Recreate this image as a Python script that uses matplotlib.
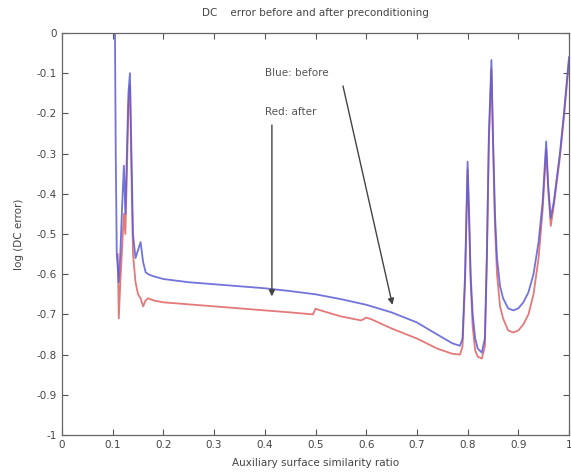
import matplotlib
matplotlib.use("Agg")
import matplotlib.pyplot as plt

# Auxiliary surface similarity ratio samples and log error, before preconditioning (blue)
x_before = [0.1045, 0.106, 0.108, 0.112, 0.115, 0.118, 0.122, 0.125, 0.128, 0.131,
            0.134, 0.137, 0.140, 0.145, 0.150, 0.155, 0.160, 0.165, 0.170, 0.180,
            0.200, 0.250, 0.300, 0.350, 0.400, 0.450, 0.500, 0.550, 0.600, 0.650,
            0.700, 0.740, 0.770, 0.785, 0.790, 0.795, 0.800, 0.803, 0.806, 0.810,
            0.815, 0.820, 0.828, 0.834, 0.838, 0.842, 0.847, 0.850, 0.854, 0.858,
            0.864, 0.870, 0.880, 0.890, 0.900, 0.910, 0.920, 0.930, 0.940, 0.948,
            0.955, 0.959, 0.964, 0.970, 0.976, 0.982, 0.990, 1.000]
y_before = [0.000, -0.30, -0.55, -0.62, -0.55, -0.45, -0.33, -0.45, -0.30, -0.15,
            -0.10, -0.30, -0.50, -0.56, -0.54, -0.52, -0.57, -0.595, -0.60, -0.605,
            -0.612, -0.620, -0.625, -0.630, -0.635, -0.642, -0.650, -0.662, -0.676, -0.695,
            -0.720, -0.750, -0.772, -0.778, -0.760, -0.600, -0.320, -0.450, -0.600, -0.700,
            -0.760, -0.785, -0.795, -0.760, -0.550, -0.250, -0.067, -0.250, -0.450, -0.560,
            -0.630, -0.660, -0.685, -0.690, -0.685, -0.670, -0.645, -0.600, -0.520, -0.420,
            -0.270, -0.380, -0.460, -0.420, -0.360, -0.300, -0.200, -0.060]

# Same quantity after preconditioning (red)
x_after = [0.110, 0.112, 0.115, 0.118, 0.122, 0.125, 0.128, 0.131, 0.134, 0.137,
           0.140, 0.145, 0.150, 0.155, 0.160, 0.165, 0.170, 0.180, 0.200, 0.250,
           0.300, 0.350, 0.400, 0.450, 0.495, 0.500, 0.510, 0.550, 0.590, 0.600,
           0.610, 0.650, 0.700, 0.740, 0.770, 0.785, 0.790, 0.795, 0.800, 0.803,
           0.806, 0.810, 0.815, 0.820, 0.828, 0.834, 0.838, 0.842, 0.847, 0.850,
           0.854, 0.858, 0.864, 0.870, 0.880, 0.890, 0.900, 0.910, 0.920, 0.930,
           0.940, 0.948, 0.955, 0.959, 0.964, 0.970, 0.976, 0.982, 0.990, 1.000]
y_after = [-0.55, -0.71, -0.62, -0.55, -0.45, -0.50, -0.35, -0.18, -0.13, -0.35,
           -0.55, -0.62, -0.65, -0.66, -0.68, -0.665, -0.660, -0.665, -0.670, -0.675,
           -0.680, -0.685, -0.690, -0.695, -0.700, -0.686, -0.690, -0.705, -0.715, -0.708,
           -0.712, -0.735, -0.760, -0.785, -0.798, -0.800, -0.780, -0.620, -0.340, -0.470,
           -0.620, -0.730, -0.790, -0.805, -0.810, -0.780, -0.570, -0.270, -0.090, -0.270,
           -0.480, -0.600, -0.680, -0.710, -0.740, -0.745, -0.740, -0.725, -0.700, -0.650,
           -0.560, -0.440, -0.290, -0.390, -0.480, -0.430, -0.370, -0.310, -0.210, -0.070]

x_ticks = [0, 0.1, 0.2, 0.3, 0.4, 0.5, 0.6, 0.7, 0.8, 0.9, 1]
x_tick_labels = ["0", "0.1", "0.2", "0.3", "0.4", "0.5", "0.6", "0.7", "0.8", "0.9", "1"]
y_ticks = [0, -0.1, -0.2, -0.3, -0.4, -0.5, -0.6, -0.7, -0.8, -0.9, -1]
y_tick_labels = ["0", "-0.1", "-0.2", "-0.3", "-0.4", "-0.5", "-0.6", "-0.7", "-0.8", "-0.9", "-1"]

fig = plt.figure(figsize=(5.71, 4.76), dpi=100)
ax = fig.add_axes([62 / 571, 41 / 476, 507 / 571, 402 / 476])

ax.plot(x_after, y_after, color="#e06a6a", lw=1.3, alpha=0.9)
ax.plot(x_before, y_before, color="#5a5ad6", lw=1.3, alpha=0.85)

ax.set_xlim(0, 1)
ax.set_ylim(-1, 0)
ax.set_xticks(x_ticks)
ax.set_xticklabels(x_tick_labels)
ax.set_yticks(y_ticks)
ax.set_yticklabels(y_tick_labels)

grey = "#555555"
ax.tick_params(direction="in", top=True, right=True, length=4, width=0.8,
               labelsize=7.5, colors=grey, labelcolor="#444444")
for s in ax.spines.values():
    s.set_color("#666666")
    s.set_linewidth(0.9)

ax.set_title("DC    error before and after preconditioning", fontsize=7.5,
             color="#444444", pad=12)
ax.set_xlabel("Auxiliary surface similarity ratio", fontsize=7.5, color="#444444", labelpad=6)
ax.set_ylabel("log (DC error)", fontsize=7.5, color="#444444", labelpad=9)

# Annotations pointing at each curve
ax.text(0.40, -0.10, "Blue: before", fontsize=7.5, color="#555555", va="center")
ax.text(0.40, -0.197, "Red: after", fontsize=7.5, color="#555555", va="center")
arrow = dict(arrowstyle="-|>", color="#444444", lw=1.0, mutation_scale=9)
ax.annotate("", xy=(0.414, -0.662), xytext=(0.414, -0.222), arrowprops=arrow)
ax.annotate("", xy=(0.653, -0.683), xytext=(0.553, -0.125), arrowprops=arrow)

fig.savefig("out.png", dpi=100, facecolor="white")
